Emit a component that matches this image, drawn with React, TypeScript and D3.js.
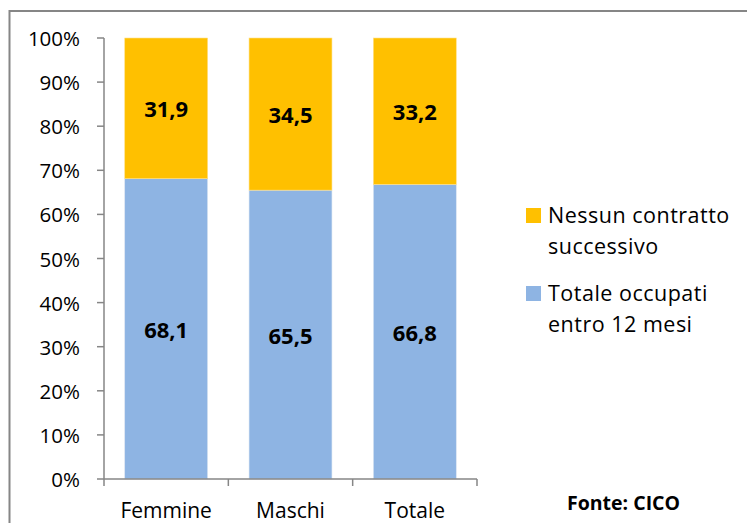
import React from "react";
import * as d3 from "d3";

const categories = ["Femmine", "Maschi", "Totale"];
const occupati = [68.1, 65.5, 66.8];
const nessun = [31.9, 34.5, 33.2];
const yTicks = [0, 10, 20, 30, 40, 50, 60, 70, 80, 90, 100];
const seriesNames = ["Nessun contratto|successivo", "Totale occupati|entro 12 mesi"];
const seriesColors = ["#FFC000", "#8EB4E3"];
const source = "Fonte: CICO";

export default function App() {
  const W = 747, H = 523;
  const left = 104, right = 477, top = 38, bottom = 479;
  const x = d3.scaleBand<string>().domain(categories).range([left, right]).paddingInner(0.333).paddingOuter(0.1667);
  const y = d3.scaleLinear().domain([0, 100]).range([bottom, top]);
  const axisColor = "#868686";
  const font = "'Open Sans', sans-serif";
  const boundaries = d3.range(categories.length + 1).map((i) => left + i * ((right - left) / categories.length));

  return (
    <svg width={W} height={H} style={{ position: "absolute", left: 0, top: 0, background: "#fff" }} fontFamily={font}>
      <rect x={9.5} y={11} width={800} height={600} fill="#fff" stroke={axisColor} strokeWidth={2} />
      {categories.map((c, i) => {
        const bx = x(c)!;
        const bw = x.bandwidth();
        const y0 = y(0), y1 = y(occupati[i]), y2 = y(occupati[i] + nessun[i]);
        return (
          <g key={c}>
            <rect x={bx} y={y1} width={bw} height={y0 - y1} fill={seriesColors[1]} stroke="#dce6f2" strokeWidth={0.6} />
            <rect x={bx} y={y2} width={bw} height={y1 - y2} fill={seriesColors[0]} stroke="#ffe08a" strokeWidth={0.6} />
            <text x={bx + bw / 2} y={(y0 + y1) / 2} textAnchor="middle" dominantBaseline="central" fontWeight="bold" fontSize={22} fill="#000">
              {occupati[i].toFixed(1).replace(".", ",")}
            </text>
            <text x={bx + bw / 2} y={(y1 + y2) / 2} textAnchor="middle" dominantBaseline="central" fontWeight="bold" fontSize={22} fill="#000">
              {nessun[i].toFixed(1).replace(".", ",")}
            </text>
            <text x={bx + bw / 2} y={518} textAnchor="middle" fontSize={21} fill="#000">{c}</text>
          </g>
        );
      })}
      <line x1={left} x2={left} y1={top} y2={bottom} stroke={axisColor} strokeWidth={1.5} />
      <line x1={left} x2={right} y1={bottom} y2={bottom} stroke={axisColor} strokeWidth={1.5} />
      {yTicks.map((t) => (
        <g key={t}>
          <line x1={97} x2={left} y1={y(t)} y2={y(t)} stroke={axisColor} strokeWidth={1.5} />
          <text x={80} y={y(t)} textAnchor="end" dominantBaseline="central" fontSize={20.5} fill="#000">{t}%</text>
        </g>
      ))}
      {boundaries.map((bx, i) => (
        <line key={i} x1={bx} x2={bx} y1={bottom} y2={486} stroke={axisColor} strokeWidth={1.5} />
      ))}
      {seriesNames.map((n, i) => {
        const sy = 208 + i * 78;
        const lines = n.split("|");
        return (
          <g key={n}>
            <rect x={526} y={sy} width={15} height={15} fill={seriesColors[i]} />
            {lines.map((l, j) => (
              <text key={j} x={548} y={sy + 15 + j * 31} fontSize={21.5} letterSpacing={0.5} fill="#000">{l}</text>
            ))}
          </g>
        );
      })}
      <text x={567} y={510} fontSize={19.5} fontWeight="bold" fill="#000">{source}</text>
    </svg>
  );
}
